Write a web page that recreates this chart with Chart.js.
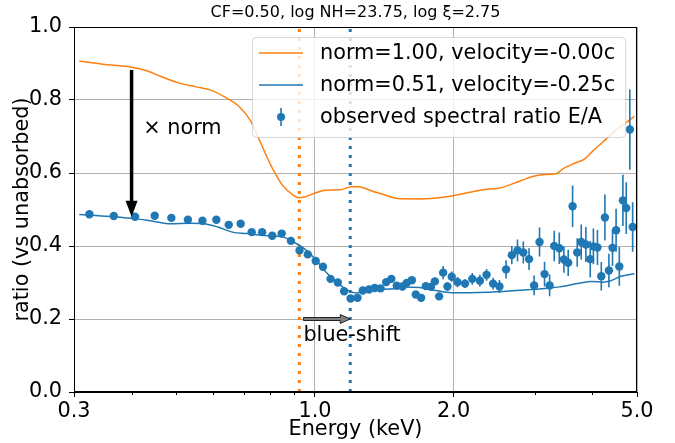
<!DOCTYPE html>
<html><head><meta charset="utf-8">
<script src="https://cdn.jsdelivr.net/npm/chart.js@4.4.1/dist/chart.umd.min.js"></script>
<style>html,body{margin:0;padding:0;background:#fff;}#wrap{width:675px;height:443px;}</style>
</head><body><div id="wrap"><canvas id="c" width="675" height="443"></canvas></div>
<script>
const titleText = 'CF=0.50, log NH=23.75, log ξ=2.75';
const xAxisLabel = 'Energy (keV)';
const yAxisLabel = 'ratio (vs unabsorbed)';
const seriesLabels = ['norm=1.00, velocity=-0.00c', 'norm=0.51, velocity=-0.25c', 'observed spectral ratio E/A'];
const xTickValues = [0.3, 1.0, 2.0, 5.0];
const xMinorTickValues = [0.4, 0.5, 0.6, 0.7, 0.8, 0.9, 3, 4];
const yTickValues = [0, 0.2, 0.4, 0.6, 0.8, 1.0];

// observed spectral ratio E/A
const obsE = [0.324,0.366,0.407,0.449,0.488,0.530,0.570,0.611,0.650,0.690,
  0.729,0.768,0.808,0.847,0.887,0.926,0.965,1.004,1.041,1.081,
  1.121,1.157,1.195,1.237,1.270,1.310,1.348,1.388,1.428,1.465,
  1.505,1.548,1.582,1.623,1.655,1.700,1.741,1.785,1.821,1.860,
  1.898,1.939,1.981,2.039,2.117,2.195,2.280,2.358,2.436,2.515,
  2.599,2.675,2.752,2.833,2.915,2.990,3.072,3.150,3.231,3.306,
  3.391,3.470,3.545,3.624,3.709,3.784,3.873,3.958,4.021,4.103,
  4.183,4.259,4.345,4.424,4.504,4.577,4.660,4.738,4.824,4.892];
const obsV = [0.487,0.482,0.480,0.483,0.477,0.472,0.469,0.472,0.458,0.461,
  0.438,0.438,0.428,0.434,0.414,0.388,0.377,0.359,0.343,0.310,
  0.300,0.276,0.256,0.258,0.278,0.281,0.285,0.284,0.301,0.310,
  0.291,0.289,0.299,0.306,0.267,0.258,0.290,0.288,0.303,0.262,
  0.327,0.289,0.316,0.301,0.297,0.310,0.305,0.321,0.297,0.289,
  0.336,0.375,0.388,0.382,0.364,0.292,0.411,0.323,0.292,0.400,
  0.394,0.363,0.354,0.509,0.382,0.411,0.404,0.364,0.399,0.396,
  0.317,0.478,0.333,0.395,0.443,0.344,0.525,0.504,0.719,0.452];
const obsErr = [0.004,0.004,0.004,0.004,0.004,0.004,0.004,0.004,0.005,0.005,
  0.005,0.005,0.005,0.005,0.005,0.005,0.006,0.006,0.006,0.006,
  0.006,0.006,0.006,0.006,0.008,0.008,0.008,0.008,0.008,0.008,
  0.010,0.010,0.010,0.010,0.009,0.010,0.010,0.010,0.010,0.010,
  0.018,0.012,0.014,0.014,0.012,0.016,0.016,0.016,0.016,0.018,
  0.025,0.025,0.030,0.030,0.030,0.027,0.040,0.034,0.030,0.042,
  0.043,0.036,0.036,0.057,0.039,0.048,0.048,0.050,0.049,0.048,
  0.039,0.063,0.046,0.050,0.059,0.053,0.070,0.071,0.110,0.068];

// model: norm=1.00, velocity=-0.00c
const restE = [0.308,0.346,0.400,0.430,0.462,0.505,0.553,0.594,0.638,0.686,
  0.724,0.764,0.806,0.851,0.898,0.923,0.948,1.000,1.056,1.135,
  1.198,1.242,1.334,1.408,1.513,1.685,1.811,1.981,2.168,2.329,
  2.502,2.787,2.941,3.104,3.336,3.458,3.650,3.852,3.993,4.215,
  4.449,4.695,4.936];
const restV = [0.907,0.898,0.890,0.881,0.865,0.847,0.836,0.827,0.808,0.781,
  0.744,0.680,0.616,0.566,0.539,0.532,0.534,0.545,0.553,0.554,
  0.562,0.562,0.550,0.541,0.530,0.529,0.531,0.537,0.547,0.555,
  0.558,0.578,0.589,0.595,0.598,0.612,0.626,0.639,0.658,0.685,
  0.712,0.735,0.755];

// model: norm=0.51, velocity=-0.25c
const shiftE = [0.308,0.359,0.407,0.445,0.487,0.533,0.573,0.616,0.662,0.711,
  0.778,0.851,0.898,0.948,1.000,1.056,1.115,1.176,1.230,1.287,
  1.358,1.460,1.569,1.685,1.811,1.981,2.168,2.371,2.595,2.889,
  3.104,3.396,3.716,3.993,4.215,4.369,4.612,4.936];
const shiftV = [0.486,0.481,0.475,0.468,0.461,0.462,0.461,0.452,0.438,0.434,
  0.429,0.425,0.411,0.393,0.365,0.329,0.301,0.279,0.271,0.277,
  0.281,0.282,0.288,0.286,0.279,0.272,0.272,0.273,0.276,0.280,
  0.283,0.288,0.297,0.303,0.301,0.304,0.317,0.324];

// edge energies: rest frame and blue-shifted
const edgeE = [0.925, 1.193];

// annotations (data coordinates)
const normArrowE = 0.4, normArrowFrom = 0.882, normArrowTo = 0.48;
const normTextE = 0.424, normTextV = 0.707, normText = '× norm';
const shiftArrowFromE = 0.944, shiftArrowToE = edgeE[1], shiftArrowV = 0.2;
const shiftTextE = 0.944, shiftTextV = 0.14, shiftText = 'blue-shift';

const FONT = "'DejaVu Sans', sans-serif";
const FS = 20.8;
const BLUE = '#1f77b4', ORANGE = '#ff7f0e';
const pts = (xs, ys) => xs.map((v, i) => ({x: v, y: ys[i]}));

const extras = {
  id: 'extras',
  afterLayout(chart) {
    const t = chart.titleBlock;
    if (t) { t.left = chart.chartArea.left; t.right = chart.chartArea.right; t.width = t.right - t.left; }
  },
  beforeDatasetDraw(chart, args) {
    if (args.index !== 2) return;
    const {ctx, chartArea: a, scales: {x, y}} = chart;
    ctx.save();
    ctx.beginPath(); ctx.rect(a.left, a.top, a.width, a.height); ctx.clip();
    ctx.strokeStyle = BLUE; ctx.lineWidth = 1.6;
    ctx.beginPath();
    obsE.forEach((e, i) => {
      const px = x.getPixelForValue(e);
      ctx.moveTo(px, y.getPixelForValue(obsV[i] - obsErr[i]));
      ctx.lineTo(px, y.getPixelForValue(obsV[i] + obsErr[i]));
    });
    ctx.stroke();
    ctx.restore();
  },
  afterDatasetsDraw(chart) {
    const {ctx, chartArea: a, scales: {x, y}} = chart;
    ctx.save();
    ctx.strokeStyle = '#000'; ctx.lineWidth = 1;
    ctx.strokeRect(Math.round(a.left) + 0.5, Math.round(a.top) + 0.5, Math.round(a.width) - 1, Math.round(a.height) - 1);
    ctx.beginPath();
    xMinorTickValues.forEach(v => {
      const px = Math.round(x.getPixelForValue(v)) + 0.5;
      ctx.moveTo(px, a.bottom); ctx.lineTo(px, a.bottom + 3);
    });
    ctx.stroke();
    ctx.restore();
  },
  afterDraw(chart) {
    const {ctx, chartArea: a, scales: {x, y}} = chart;
    ctx.save();
    // × norm arrow
    const ax = x.getPixelForValue(normArrowE);
    const ay0 = y.getPixelForValue(normArrowFrom), ay1 = y.getPixelForValue(normArrowTo);
    const hl = 16, hw = 6;
    ctx.strokeStyle = '#000'; ctx.fillStyle = '#000'; ctx.lineWidth = 3.5;
    ctx.beginPath(); ctx.moveTo(ax, ay0); ctx.lineTo(ax, ay1 - hl + 1); ctx.stroke();
    ctx.beginPath(); ctx.moveTo(ax - hw, ay1 - hl); ctx.lineTo(ax + hw, ay1 - hl); ctx.lineTo(ax, ay1); ctx.closePath(); ctx.fill();
    ctx.font = FS + 'px ' + FONT; ctx.textAlign = 'left'; ctx.textBaseline = 'alphabetic';
    ctx.fillText(normText, x.getPixelForValue(normTextE), y.getPixelForValue(normTextV));
    // blue-shift arrow
    const bx0 = x.getPixelForValue(shiftArrowFromE), bx1 = x.getPixelForValue(shiftArrowToE);
    const by = y.getPixelForValue(shiftArrowV);
    const sw = 1.5, bhw = 4.5, bhl = 10;
    ctx.beginPath();
    ctx.moveTo(bx0, by - sw); ctx.lineTo(bx1 - bhl, by - sw); ctx.lineTo(bx1 - bhl, by - bhw);
    ctx.lineTo(bx1, by); ctx.lineTo(bx1 - bhl, by + bhw); ctx.lineTo(bx1 - bhl, by + sw);
    ctx.lineTo(bx0, by + sw); ctx.closePath();
    ctx.fillStyle = '#808080'; ctx.fill();
    ctx.lineWidth = 1; ctx.strokeStyle = '#222'; ctx.stroke();
    ctx.fillStyle = '#000';
    ctx.fillText(shiftText, x.getPixelForValue(shiftTextE), y.getPixelForValue(shiftTextV));
    // legend
    const items = [
      {kind: 'line', color: ORANGE, label: seriesLabels[0]},
      {kind: 'line', color: BLUE, label: seriesLabels[1]},
      {kind: 'err', color: BLUE, label: seriesLabels[2]}
    ];
    ctx.font = FS + 'px ' + FONT;
    const tw = Math.max(...items.map(it => ctx.measureText(it.label).width));
    const bl = 252, bt = a.top + 10, rowH = 32;
    const textX = bl + 68;
    const bw = textX - bl + tw + 10, bh = 100;
    ctx.beginPath();
    ctx.roundRect(bl + 0.5, bt + 0.5, bw, bh, 4);
    ctx.fillStyle = 'rgba(255,255,255,0.8)'; ctx.fill();
    ctx.strokeStyle = 'rgba(204,204,204,0.8)'; ctx.lineWidth = 1; ctx.stroke();
    items.forEach((it, i) => {
      const cy = bt + 16 + i * rowH;
      if (it.kind === 'line') {
        ctx.strokeStyle = it.color; ctx.lineWidth = 1.5;
        ctx.beginPath(); ctx.moveTo(bl + 7, cy); ctx.lineTo(bl + 51, cy); ctx.stroke();
      } else {
        ctx.strokeStyle = it.color; ctx.fillStyle = it.color; ctx.lineWidth = 1.6;
        ctx.beginPath(); ctx.moveTo(bl + 29, cy - 9); ctx.lineTo(bl + 29, cy + 9); ctx.stroke();
        ctx.beginPath(); ctx.arc(bl + 29, cy, 4, 0, Math.PI * 2); ctx.fill();
      }
      ctx.fillStyle = '#000'; ctx.textAlign = 'left'; ctx.textBaseline = 'middle';
      ctx.fillText(it.label, textX, cy + 1);
    });
    ctx.restore();
  }
};

new Chart(document.getElementById('c'), {
  type: 'scatter',
  data: {
    datasets: [
      {label: seriesLabels[0], data: pts(restE, restV), showLine: true, borderColor: ORANGE, borderWidth: 1.5,
       pointRadius: 0, cubicInterpolationMode: 'monotone', order: 2},
      {label: seriesLabels[1], data: pts(shiftE, shiftV), showLine: true, borderColor: BLUE, borderWidth: 1.5,
       pointRadius: 0, cubicInterpolationMode: 'monotone', order: 1},
      {label: seriesLabels[2], data: pts(obsE, obsV), showLine: false, pointRadius: 4.2,
       pointBackgroundColor: BLUE, pointBorderWidth: 0, order: 0},
      {label: 'edge (rest)', data: [{x: edgeE[0], y: 0}, {x: edgeE[0], y: 1}], showLine: true, borderColor: ORANGE,
       borderWidth: 3, borderDash: [3, 6], pointRadius: 0, order: 3},
      {label: 'edge (shifted)', data: [{x: edgeE[1], y: 0}, {x: edgeE[1], y: 1}], showLine: true, borderColor: BLUE,
       borderWidth: 3, borderDash: [3, 6], pointRadius: 0, order: 3}
    ]
  },
  options: {
    responsive: false, animation: false, devicePixelRatio: 1,
    layout: {padding: {left: 0, right: 38, top: 0, bottom: 0}},
    plugins: {
      legend: {display: false}, tooltip: {enabled: false},
      title: {display: true, text: titleText, color: '#000', font: {family: FONT, size: 16, weight: 'normal'},
              padding: {top: 3, bottom: 4.8}}
    },
    scales: {
      x: {
        type: 'logarithmic', min: 0.3, max: 5.0,
        afterBuildTicks: s => { s.ticks = xTickValues.map(v => ({value: v})); },
        afterFit: s => { s.height = 51; },
        ticks: {color: '#000', font: {family: FONT, size: FS}, padding: 2, maxRotation: 0, autoSkip: false,
                callback: v => Number(v).toFixed(1)},
        grid: {color: '#b0b0b0', lineWidth: 1, tickColor: '#000', tickLength: 5, tickWidth: 1},
        border: {display: true, color: '#000', width: 1},
        title: {display: true, text: xAxisLabel, color: '#000', font: {family: FONT, size: FS}, padding: {top: 0, bottom: 1}}
      },
      y: {
        min: 0, max: 1,
        afterBuildTicks: s => { s.ticks = yTickValues.map(v => ({value: v})); },
        afterFit: s => { s.width = 74; },
        ticks: {color: '#000', font: {family: FONT, size: FS}, padding: 7, callback: v => Number(v).toFixed(1)},
        grid: {color: '#b0b0b0', lineWidth: 1, tickColor: '#000', tickLength: 5, tickWidth: 1},
        border: {display: true, color: '#000', width: 1},
        title: {display: true, text: yAxisLabel, color: '#000', font: {family: FONT, size: FS}, padding: {top: 10, bottom: 0}}
      }
    }
  },
  plugins: [extras]
});
</script></body></html>
